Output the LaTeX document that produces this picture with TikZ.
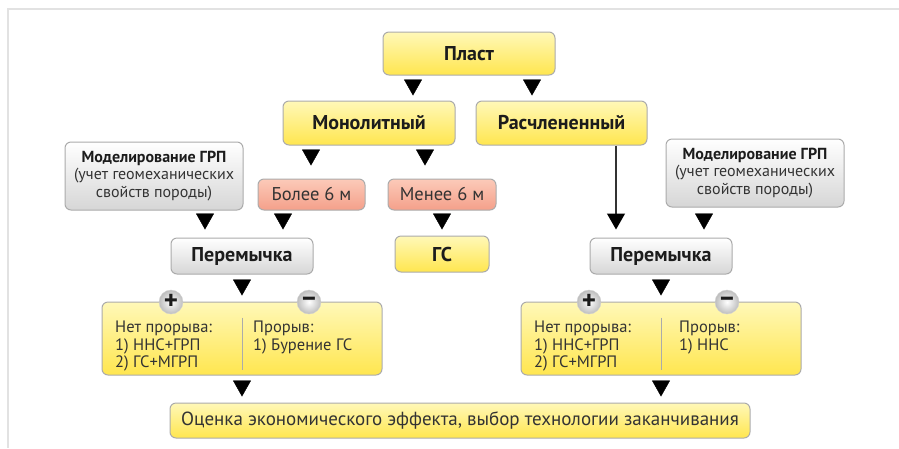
\documentclass[tikz,border=0pt]{standalone}
\usepackage{fontspec}
\setmainfont{PT Sans}
\usetikzlibrary{arrows.meta}

\definecolor{framecol}{HTML}{E2E2E2}
\definecolor{boxline}{HTML}{ABABAB}
\definecolor{yelTop}{HTML}{FFF8B8}
\definecolor{yelBot}{HTML}{FFE64F}
\definecolor{grayBot}{HTML}{D6D6D6}
\definecolor{redTop}{HTML}{FCCAB9}
\definecolor{redBot}{HTML}{F4A08A}
\definecolor{signOut}{HTML}{BDBDBD}
\definecolor{txt}{HTML}{333333}
\definecolor{titletxt}{HTML}{1C1C1C}

\tikzset{
  box/.style={draw=boxline, line width=1pt, rounded corners=6pt, inner sep=0pt,
    align=center, text=txt},
  yellowbox/.style={box, top color=yelTop, bottom color=yelBot},
  graybox/.style={box, top color=white, bottom color=grayBot},
  redbox/.style={box, top color=redTop, bottom color=redBot},
  title/.style={font=\fontsize{20}{24}\selectfont\bfseries, text=titletxt},
  listtxt/.style={inner sep=0pt, align=left, text=txt, font=\fontsize{16.5}{17.5}\selectfont},
  sign/.style={circle, minimum size=24pt, inner sep=0pt, draw=gray!35,
    inner color=white, outer color=signOut, text=titletxt,
    font=\fontsize{27}{27}\selectfont\bfseries},
  tri/.style={draw=white, shorten <=2pt, shorten >=6pt,
    -{Triangle[length=16pt,width=18pt,black]}},
  divline/.style={draw=boxline, line width=1pt},
}

\begin{document}
\begin{tikzpicture}[x=1pt,y=-1pt]
  \useasboundingbox (0,0) rectangle (899,448);

  % Frame
  \draw[framecol, line width=2pt] (8,448) -- (8,9) -- (899,9);

  % Top levels
  \node[yellowbox, title, minimum width=172pt, minimum height=43pt] (plast) at (469,53.5) {Пласт};
  \node[yellowbox, title, minimum width=172pt, minimum height=44pt] (mono) at (369,123) {Монолитный};
  \node[yellowbox, title, minimum width=171pt, minimum height=44pt] (rasch) at (561.5,123) {Расчлененный};

  % Modelling boxes
  \node[graybox, minimum width=178pt, minimum height=68pt,
    font=\fontsize{16}{17.5}\selectfont] (modL) at (154,176)
    {\textbf{\color{titletxt}Моделирование ГРП}\\(учет геомеханических\\свойств породы)};
  \node[graybox, minimum width=178pt, minimum height=68pt,
    font=\fontsize{16}{17.5}\selectfont] (modR) at (755,173)
    {\textbf{\color{titletxt}Моделирование ГРП}\\(учет геомеханических\\свойств породы)};

  % Thickness
  \node[redbox, minimum width=107pt, minimum height=31pt,
    font=\fontsize{18.5}{20}\selectfont] (bolee) at (311.5,194.5) {Более 6 м};
  \node[redbox, minimum width=108pt, minimum height=31pt,
    font=\fontsize{18.5}{20}\selectfont] (menee) at (442,194.5) {Менее 6 м};

  % Jumpers and horizontal well
  \node[graybox, title, minimum width=142pt, minimum height=36pt] (peremL) at (242,256) {Перемычка};
  \node[yellowbox, title, minimum width=94pt, minimum height=36pt] (gs) at (442,254) {ГС};
  \node[graybox, title, minimum width=142pt, minimum height=36pt] (peremR) at (661,256) {Перемычка};

  % Result boxes
  \node[yellowbox, minimum width=280pt, minimum height=73pt] (resL) at (242,338.5) {};
  \draw[divline] ([yshift=-16pt]resL.north) -- ([yshift=6pt]resL.south);
  \node[listtxt, anchor=north west] (resLyes) at (115,321) {Нет прорыва:\\1) ННС+ГРП\\2) ГС+МГРП};
  \node[listtxt, anchor=north west] (resLno) at (253,321) {Прорыв:\\1) Бурение ГС};
  \node[sign] (plusL) at (171,302) {+};
  \node[sign] (minusL) at (309,302) {–};

  \node[yellowbox, minimum width=280pt, minimum height=73pt] (resR) at (661,338.5) {};
  \draw[divline] ([yshift=-16pt]resR.north) -- ([yshift=6pt]resR.south);
  \node[listtxt, anchor=north west] (resRyes) at (534,321) {Нет прорыва:\\1) ННС+ГРП\\2) ГС+МГРП};
  \node[listtxt, anchor=north west] (resRno) at (679,321) {Прорыв:\\1) ННС};
  \node[sign] (plusR) at (589,302) {+};
  \node[sign] (minusR) at (727,302) {–};

  % Final estimate
  \node[yellowbox, minimum width=580pt, minimum height=35pt,
    font=\fontsize{19}{22}\selectfont] (ocenka) at (460,420.5)
    {Оценка экономического эффекта, выбор технологии заканчивания};

  % Triangles
  \draw[tri, shorten >=5pt] (plast.south -| 413,0) -- (mono.north -| 413,0);
  \draw[tri, shorten >=5pt] (plast.south -| 532,0) -- (rasch.north -| 532,0);
  \draw[tri, shorten >=13pt] (mono.south -| 311,0) -- (bolee.north -| 311,0);
  \draw[tri, shorten >=13pt] (mono.south -| 425,0) -- (menee.north -| 425,0);
  \draw[tri, shorten >=8pt] (modL.south -| 205,0) -- (peremL.north -| 205,0);
  \draw[tri, shorten >=8pt] (bolee.south -| 283,0) -- (peremL.north -| 283,0);
  \draw[tri] (menee.south -| 442,0) -- (gs.north -| 442,0);
  \draw[tri, shorten >=8pt] (modR.south -| 704,0) -- (peremR.north -| 704,0);
  \draw[tri] (peremL.south) -- (resL.north);
  \draw[tri] (peremR.south) -- (resR.north);
  \draw[tri] (resL.south) -- (ocenka.north -| resL.south);
  \draw[tri] (resR.south) -- (ocenka.north -| resR.south);

  % Line from the split layer
  \draw[draw=txt, line width=1.2pt, shorten >=8pt, -{Triangle[length=16pt,width=18pt,black]}]
    (rasch.south -| 616,0) -- (peremR.north -| 616,0);
\end{tikzpicture}
\end{document}
